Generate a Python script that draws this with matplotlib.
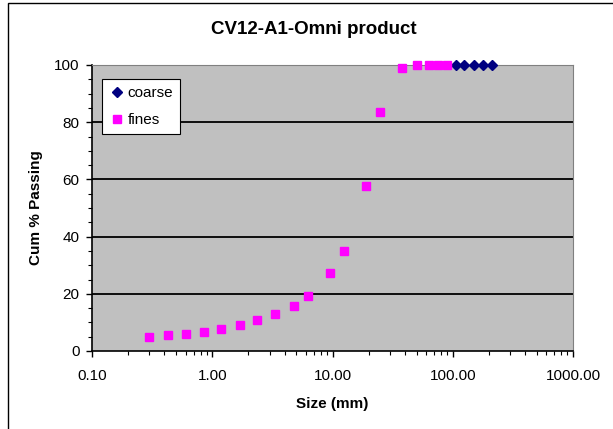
import matplotlib

matplotlib.use("Agg")
import matplotlib.pyplot as plt
from matplotlib.patches import Rectangle
from matplotlib.ticker import FixedLocator, LogLocator, NullFormatter, FuncFormatter

plt.rcParams["font.family"] = ["Liberation Sans", "DejaVu Sans"]

# sieve data
coarse_size = [106, 125, 150, 180, 212]
coarse_pass = [100, 100, 100, 100, 100]
fines_size = [0.3, 0.425, 0.6, 0.85, 1.18, 1.7, 2.36, 3.35, 4.75, 6.3,
              9.5, 12.5, 19, 25, 37.5, 50, 63, 75, 90]
fines_pass = [4.9, 5.5, 6.0, 6.8, 7.7, 9.1, 10.9, 13.1, 15.8, 19.4,
              27.1, 35.1, 57.6, 83.6, 98.9, 100, 100, 100, 100]
y_ticks = [0, 20, 40, 60, 80, 100]

W, H = 613, 429
fig = plt.figure(figsize=(W / 100, H / 100), dpi=100)
# plot area in pixels: left 92, right 573, top 65, bottom 351
ax = fig.add_axes([92 / W, 1 - 351 / H, (573 - 92) / W, (351 - 65) / H])
ax.set_facecolor("#C0C0C0")

# outer chart frame (only left and top edges visible)
fig.patches.append(Rectangle((8 / W, -0.1), 1.2, 1 - 3 / H + 0.1, transform=fig.transFigure,
                             fill=False, edgecolor="black", linewidth=1.0))

for y in y_ticks[1:]:
    ax.axhline(y, color="black", linewidth=1.3, zorder=1)

ax.plot(coarse_size, coarse_pass, linestyle="none", marker="D", markersize=5,
        color="#000080", label="coarse", zorder=3, clip_on=False)
ax.plot(fines_size, fines_pass, linestyle="none", marker="s", markersize=5.5,
        color="#FF00FF", label="fines", zorder=3, clip_on=False)

ax.set_xscale("log")
ax.set_xlim(0.1, 1000)
ax.set_ylim(0, 100)
ax.xaxis.set_major_locator(FixedLocator([0.1, 1, 10, 100, 1000]))
ax.xaxis.set_major_formatter(FuncFormatter(lambda v, p: f"{v:.2f}"))
ax.xaxis.set_minor_locator(LogLocator(base=10, subs=range(2, 10)))
ax.xaxis.set_minor_formatter(NullFormatter())
ax.set_yticks(y_ticks)
ax.set_yticks(range(0, 101, 5), minor=True)

ax.tick_params(axis="both", which="major", direction="out", length=4, width=1,
               labelsize=11, color="black")
ax.tick_params(axis="both", which="minor", direction="out", length=3, width=0.8,
               color="black")
ax.tick_params(axis="x", pad=9)
ax.tick_params(axis="y", pad=5)

for side in ("top", "right"):
    ax.spines[side].set_color("#808080")
for side in ("left", "bottom"):
    ax.spines[side].set_color("black")
    ax.spines[side].set_linewidth(1.2)

ax.set_xlabel("Size (mm)", fontsize=11, fontweight="bold", labelpad=10)
ax.set_ylabel("Cum % Passing", fontsize=11, fontweight="bold", labelpad=8)
fig.text(314 / W, 1 - 30 / H, "CV12-A1-Omni product", fontsize=13.5, fontweight="bold",
         ha="center", va="center")

leg = ax.legend(loc="upper left", bbox_to_anchor=(0.021, 0.951), borderaxespad=0,
                fontsize=11, frameon=True, fancybox=False, edgecolor="black",
                framealpha=1, handletextpad=0.2, handlelength=1.0, borderpad=0.45,
                labelspacing=0.85)
leg.get_frame().set_linewidth(0.8)

fig.savefig("out.png", dpi=100, facecolor="white")
